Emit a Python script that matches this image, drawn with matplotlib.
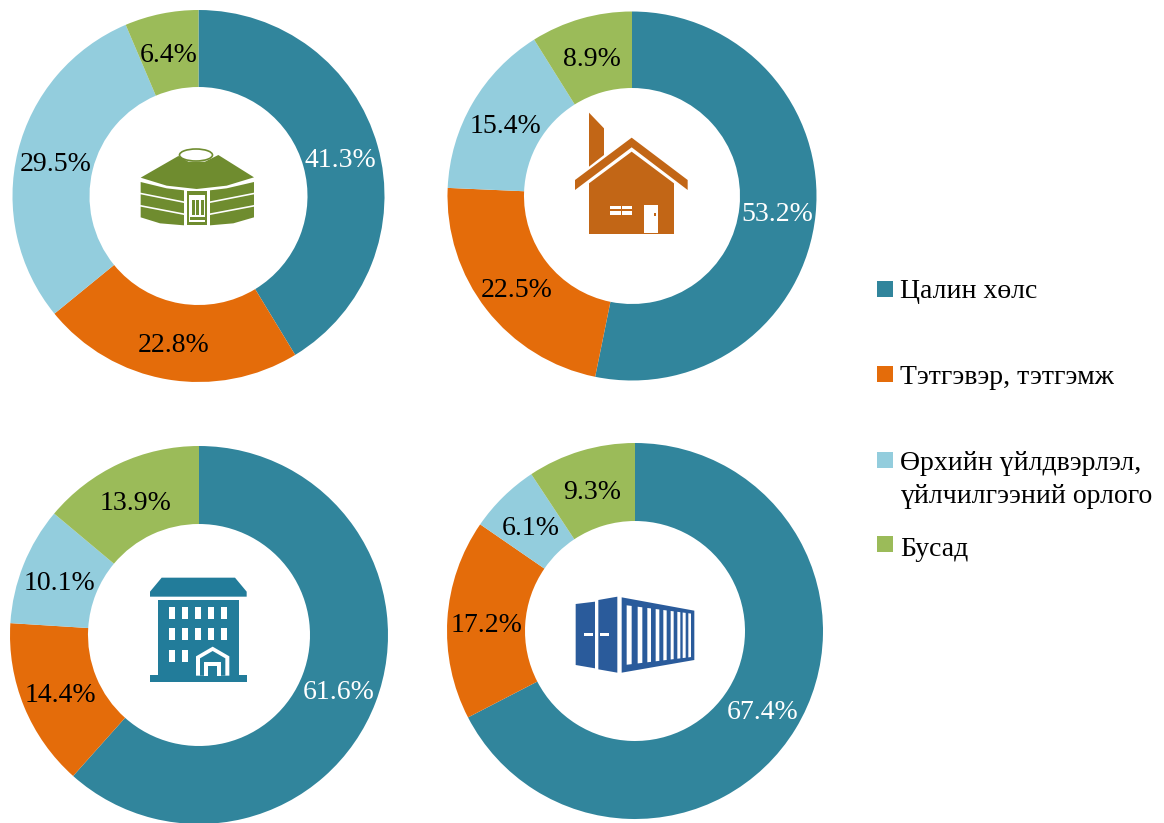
import matplotlib
matplotlib.use('Agg')
import matplotlib.pyplot as plt
from matplotlib.patches import Polygon, Rectangle, Ellipse

plt.rcParams['font.family'] = ['Liberation Serif', 'DejaVu Serif']

W, H = 1164, 823

categories = ['Цалин хөлс', 'Тэтгэвэр, тэтгэмж',
              'Өрхийн үйлдвэрлэл,\nүйлчилгээний орлого', 'Бусад']
ger_values = [41.3, 22.8, 29.5, 6.4]
house_values = [53.2, 22.5, 15.4, 8.9]
apartment_values = [61.6, 14.4, 10.1, 13.9]
container_values = [67.4, 17.2, 6.1, 9.3]
colors = ['#31859C', '#E46C0A', '#93CDDD', '#9BBB59']

fig = plt.figure(figsize=(W / 100, H / 100), dpi=100)

# overlay in reference pixels, for icons and legend
over = fig.add_axes([0, 0, 1, 1], zorder=5)
over.set_xlim(0, W)
over.set_ylim(H, 0)
over.axis('off')


def donut(values, cx, cy, r, hole):
    ax = fig.add_axes([(cx - r) / W, 1 - (cy + r) / H, 2 * r / W, 2 * r / H])
    wedges, texts, pcts = ax.pie(values, colors=colors, startangle=90, counterclock=False,
                                 radius=1, autopct='%.1f%%',
                                 pctdistance=1 - (1 - hole / r) / 2,
                                 wedgeprops={'width': 1 - hole / r, 'linewidth': 0},
                                 textprops={'fontsize': 20})
    ax.set_xlim(-1, 1)
    ax.set_ylim(-1, 1)
    pcts[0].set_color('white')
    # labels sit a little lower than the ring middle
    for t in pcts:
        x, y = t.get_position()
        t.set_position((x, y - 4 / r))


def shape(pts, ox, oy, color):
    over.add_patch(Polygon([(ox + x / 3, oy + y / 3) for x, y in pts], closed=True,
                           facecolor=color, edgecolor='none'))


def box(x0, y0, x1, y1, ox, oy, color):
    shape([(x0, y0), (x1, y0), (x1, y1), (x0, y1)], ox, oy, color)


def draw_ger():
    ox, oy, c = 110, 120, '#6F8C2F'
    shape([(92, 173), (205, 108), (235, 125), (285, 125), (325, 105), (432, 172),
           (350, 197), (260, 207), (170, 197)], ox, oy, c)
    shape([(92, 186), (170, 205), (222, 211), (222, 244), (92, 218)], ox, oy, c)
    shape([(92, 223), (222, 249), (222, 280), (92, 255)], ox, oy, c)
    shape([(92, 260), (222, 285), (222, 316), (150, 310), (92, 292)], ox, oy, c)
    shape([(300, 211), (350, 205), (432, 186), (432, 218), (300, 244)], ox, oy, c)
    shape([(300, 249), (432, 223), (432, 255), (300, 280)], ox, oy, c)
    shape([(300, 285), (432, 260), (432, 292), (370, 310), (300, 316)], ox, oy, c)
    # door
    box(232, 212, 292, 316, ox, oy, c)
    box(238, 225, 286, 306, ox, oy, 'white')
    box(246, 240, 255, 284, ox, oy, c)
    box(259, 240, 268, 284, ox, oy, c)
    box(272, 240, 281, 284, ox, oy, c)
    box(240, 290, 284, 299, ox, oy, c)
    over.add_patch(Ellipse((ox + 258 / 3, oy + 105 / 3), 33, 12, facecolor='white',
                           edgecolor=c, linewidth=1.2))


def draw_house():
    ox, oy, c = 550, 100, '#C26616'
    shape([(117, 38), (162, 85), (162, 165), (117, 200)], ox, oy, c)
    shape([(245, 113), (413, 240), (413, 270), (245, 142), (75, 270), (75, 240)], ox, oy, c)
    shape([(117, 250), (245, 155), (372, 250), (372, 402), (117, 402)], ox, oy, c)
    box(181, 318, 212, 328, ox, oy, 'white')
    box(217, 318, 245, 328, ox, oy, 'white')
    box(181, 334, 212, 344, ox, oy, 'white')
    box(217, 334, 245, 344, ox, oy, 'white')
    box(282, 314, 325, 398, ox, oy, 'white')
    box(313, 338, 319, 347, ox, oy, c)


def draw_apartment():
    ox, oy, c = 130, 565, '#227C9A'
    shape([(95, 38), (315, 38), (350, 80), (350, 95), (60, 95), (60, 80)], ox, oy, c)
    box(85, 105, 327, 335, ox, oy, c)
    box(60, 330, 350, 350, ox, oy, c)
    for x in [118, 157, 196, 234, 273]:
        box(x, 126, x + 18, 162, ox, oy, 'white')
        box(x, 190, x + 18, 226, ox, oy, 'white')
    for x in [118, 157]:
        box(x, 254, x + 18, 290, ox, oy, 'white')
    shape([(198, 274), (248, 245), (298, 274), (298, 332), (198, 332)], ox, oy, 'white')
    shape([(210, 280), (248, 258), (286, 280), (286, 332), (210, 332)], ox, oy, c)
    box(222, 292, 274, 332, ox, oy, 'white')
    box(234, 304, 262, 332, ox, oy, c)


def draw_container():
    ox, oy, c = 560, 580, '#2A5B9B'
    shape([(47, 72), (105, 65), (105, 265), (47, 255)], ox, oy, c)
    shape([(115, 60), (172, 50), (172, 278), (115, 268)], ox, oy, c)
    shape([(185, 52), (403, 92), (403, 240), (185, 278)], ox, oy, c)
    box(72, 160, 98, 168, ox, oy, 'white')
    box(120, 160, 146, 168, ox, oy, 'white')
    slots = [(200, 215), (233, 247), (262, 273), (287, 298), (310, 320),
             (332, 341), (352, 361), (368, 377), (385, 393)]
    for x0, x1 in slots:
        m0 = 22 - (x0 - 185) * 12 / 218
        m1 = 22 - (x1 - 185) * 12 / 218
        top0 = 52 + (x0 - 185) * 40 / 218 + m0
        top1 = 52 + (x1 - 185) * 40 / 218 + m1
        bot0 = 278 - (x0 - 185) * 38 / 218 - m0
        bot1 = 278 - (x1 - 185) * 38 / 218 - m1
        shape([(x0, top0), (x1, top1), (x1, bot1), (x0, bot0)], ox, oy, 'white')


donut(ger_values, 198.5, 196, 186, 109)
donut(house_values, 632, 196, 184.5, 108)
donut(apartment_values, 199, 635, 189, 111)
donut(container_values, 635, 631, 188, 110)

draw_ger()
draw_house()
draw_apartment()
draw_container()

# legend
legend_y = [289, 374, 460, 544]
text_y = [291, 377, 480, 549]
for y, ty, name, col in zip(legend_y, text_y, categories, colors):
    over.add_patch(Rectangle((877, y - 8), 16, 16, facecolor=col, edgecolor='none'))
    over.text(900, ty, name, fontsize=20, va='center', ha='left', color='black', linespacing=1.45)

fig.savefig('out.png', dpi=100)
